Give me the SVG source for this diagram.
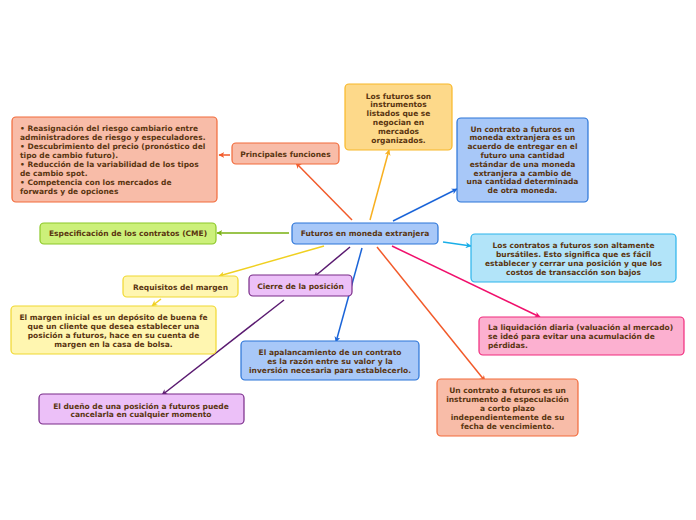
<svg xmlns="http://www.w3.org/2000/svg" width="696" height="520" viewBox="0 0 696 520">
<style>
text{font-family:"DejaVu Sans","Verdana",sans-serif;font-weight:bold;font-size:7.5px;fill:#5a3510}
.c{text-anchor:middle}
rect{stroke-width:1.2}
.or{fill:#f8bca8;stroke:#f26a3a}
.yo{fill:#fdd98a;stroke:#f8b828}
.bl{fill:#a8c8f8;stroke:#2a74d8}
.gr{fill:#ccf07a;stroke:#8cc828}
.cy{fill:#b2e4f9;stroke:#2ab4ec}
.ye{fill:#fff6b0;stroke:#f0d830}
.pu{fill:#ecc0f8;stroke:#782a88}
.pk{fill:#fcb0d0;stroke:#f02a7c}
#edges line{stroke-width:1.5;fill:none}
</style>
<defs>
<marker id="aOr" viewBox="0 0 10 10" refX="9" refY="5" markerWidth="6" markerHeight="6" orient="auto" markerUnits="userSpaceOnUse"><path d="M0,0L10,5L0,10L3,5z" fill="#f25a2a"/></marker>
<marker id="aYo" viewBox="0 0 10 10" refX="9" refY="5" markerWidth="6" markerHeight="6" orient="auto" markerUnits="userSpaceOnUse"><path d="M0,0L10,5L0,10L3,5z" fill="#f8b020"/></marker>
<marker id="aBl" viewBox="0 0 10 10" refX="9" refY="5" markerWidth="6" markerHeight="6" orient="auto" markerUnits="userSpaceOnUse"><path d="M0,0L10,5L0,10L3,5z" fill="#1a64d8"/></marker>
<marker id="aGr" viewBox="0 0 10 10" refX="9" refY="5" markerWidth="6" markerHeight="6" orient="auto" markerUnits="userSpaceOnUse"><path d="M0,0L10,5L0,10L3,5z" fill="#78b010"/></marker>
<marker id="aCy" viewBox="0 0 10 10" refX="9" refY="5" markerWidth="6" markerHeight="6" orient="auto" markerUnits="userSpaceOnUse"><path d="M0,0L10,5L0,10L3,5z" fill="#1aaee8"/></marker>
<marker id="aYe" viewBox="0 0 10 10" refX="9" refY="5" markerWidth="6" markerHeight="6" orient="auto" markerUnits="userSpaceOnUse"><path d="M0,0L10,5L0,10L3,5z" fill="#f0d020"/></marker>
<marker id="aPu" viewBox="0 0 10 10" refX="9" refY="5" markerWidth="6" markerHeight="6" orient="auto" markerUnits="userSpaceOnUse"><path d="M0,0L10,5L0,10L3,5z" fill="#5a1a70"/></marker>
<marker id="aPk" viewBox="0 0 10 10" refX="9" refY="5" markerWidth="6" markerHeight="6" orient="auto" markerUnits="userSpaceOnUse"><path d="M0,0L10,5L0,10L3,5z" fill="#f0106c"/></marker>
</defs>
<rect width="696" height="520" fill="#ffffff"/>
<g id="edges">
<line x1="352" y1="220" x2="296" y2="163" stroke="#f25a2a" marker-end="url(#aOr)"/>
<line x1="230" y1="155" x2="219" y2="155" stroke="#f25a2a" marker-end="url(#aOr)"/>
<line x1="370" y1="220" x2="389" y2="150" stroke="#f8b020" marker-end="url(#aYo)"/>
<line x1="393" y1="221" x2="457" y2="189" stroke="#1a64d8" marker-end="url(#aBl)"/>
<line x1="289" y1="233" x2="217" y2="233" stroke="#78b010" marker-end="url(#aGr)"/>
<line x1="443" y1="242" x2="471" y2="246" stroke="#1aaee8" marker-end="url(#aCy)"/>
<line x1="324" y1="246" x2="219" y2="276" stroke="#f0d020" marker-end="url(#aYe)"/>
<line x1="161" y1="299" x2="152" y2="306" stroke="#f0d020" marker-end="url(#aYe)"/>
<line x1="350" y1="247" x2="314" y2="277" stroke="#5a1a70" marker-end="url(#aPu)"/>
<line x1="284" y1="300" x2="162" y2="395" stroke="#5a1a70" marker-end="url(#aPu)"/>
<line x1="362" y1="248" x2="336" y2="342" stroke="#1a64d8" marker-end="url(#aBl)"/>
<line x1="377" y1="247" x2="485" y2="381" stroke="#f25a2a" marker-end="url(#aOr)"/>
<line x1="392" y1="246" x2="540" y2="317" stroke="#f0106c" marker-end="url(#aPk)"/>
</g>
<g id="central"><rect class="bl" x="292" y="223" width="146" height="21" rx="4"/><text class="c" x="365" y="236">Futuros en moneda extranjera</text></g>
<g id="funciones"><rect class="or" x="232" y="143" width="107" height="21" rx="4"/><text class="c" x="285.5" y="157">Principales funciones</text></g>
<g id="lista"><rect class="or" x="12" y="117" width="205" height="85" rx="4"/>
<text x="20" y="130.5">• Reasignación del riesgo cambiario entre</text>
<text x="20" y="139.5">administradores de riesgo y especuladores.</text>
<text x="20" y="148.5">• Descubrimiento del precio (pronóstico del</text>
<text x="20" y="157.5">tipo de cambio futuro).</text>
<text x="20" y="166.5">• Reducción de la variabilidad de los tipos</text>
<text x="20" y="175.5">de cambio spot.</text>
<text x="20" y="184.5">• Competencia con los mercados de</text>
<text x="20" y="193.5">forwards y de opciones</text></g>
<g id="listados"><rect class="yo" x="345" y="84" width="107" height="66" rx="4"/>
<text class="c" x="398.5" y="98.5">Los futuros son</text>
<text class="c" x="398.5" y="107.3">instrumentos</text>
<text class="c" x="398.5" y="116.1">listados que se</text>
<text class="c" x="398.5" y="124.9">negocian en</text>
<text class="c" x="398.5" y="133.7">mercados</text>
<text class="c" x="398.5" y="142.5">organizados.</text></g>
<g id="definicion"><rect class="bl" x="457" y="118" width="131" height="84" rx="4"/>
<text class="c" x="522.5" y="131.5">Un contrato a futuros en</text>
<text class="c" x="522.5" y="140.3">moneda extranjera es un</text>
<text class="c" x="522.5" y="149.1">acuerdo de entregar en el</text>
<text class="c" x="522.5" y="157.9">futuro una cantidad</text>
<text class="c" x="522.5" y="166.7">estándar de una moneda</text>
<text class="c" x="522.5" y="175.5">extranjera a cambio de</text>
<text class="c" x="522.5" y="184.3">una cantidad determinada</text>
<text class="c" x="522.5" y="193.1">de otra moneda.</text></g>
<g id="especificacion"><rect class="gr" x="40" y="223" width="176" height="21" rx="4"/><text class="c" x="128" y="236">Especificación de los contratos (CME)</text></g>
<g id="bursatiles"><rect class="cy" x="471" y="234" width="205" height="48" rx="4"/>
<text class="c" x="573.5" y="248">Los contratos a futuros son altamente</text>
<text class="c" x="573.5" y="257">bursátiles. Esto significa que es fácil</text>
<text class="c" x="573.5" y="266">establecer y cerrar una posición y que los</text>
<text class="c" x="573.5" y="275">costos de transacción son bajos</text></g>
<g id="requisitos"><rect class="ye" x="123" y="276" width="115" height="21" rx="4"/><text class="c" x="180.5" y="290">Requisitos  del margen</text></g>
<g id="cierre"><rect class="pu" x="249" y="275" width="103" height="21" rx="4"/><text class="c" x="300.5" y="289">Cierre de la posición</text></g>
<g id="margen"><rect class="ye" x="11" y="306" width="205" height="48" rx="4"/>
<text class="c" x="113.5" y="319.5">El margen inicial es un depósito de buena fe</text>
<text class="c" x="113.5" y="328.5">que un cliente que desea establecer una</text>
<text class="c" x="113.5" y="337.5">posición a futuros, hace en su cuenta de</text>
<text class="c" x="113.5" y="346.5">margen en la casa de bolsa.</text></g>
<g id="apalancamiento"><rect class="bl" x="241" y="341" width="178" height="39" rx="4"/>
<text class="c" x="330" y="355">El apalancamiento de un contrato</text>
<text class="c" x="330" y="364">es la razón entre su valor y la</text>
<text class="c" x="330" y="373">inversión necesaria para establecerlo.</text></g>
<g id="liquidacion"><rect class="pk" x="479" y="317" width="205" height="38" rx="4"/>
<text x="488" y="330">La liquidación diaria (valuación al mercado)</text>
<text x="488" y="339">se ideó para evitar una acumulación de</text>
<text x="488" y="348">pérdidas.</text></g>
<g id="dueno"><rect class="pu" x="39" y="394" width="205" height="30" rx="4"/>
<text class="c" x="141" y="408.5">El dueño de una posición a futuros puede</text>
<text class="c" x="141" y="417">cancelarla en cualquier momento</text></g>
<g id="especulacion"><rect class="or" x="437" y="379" width="141" height="57" rx="4"/>
<text class="c" x="507.5" y="393">Un contrato a futuros es un</text>
<text class="c" x="507.5" y="402">instrumento de especulación</text>
<text class="c" x="507.5" y="411">a corto plazo</text>
<text class="c" x="507.5" y="420">independientemente de su</text>
<text class="c" x="507.5" y="429">fecha de vencimiento.</text></g>
</svg>
